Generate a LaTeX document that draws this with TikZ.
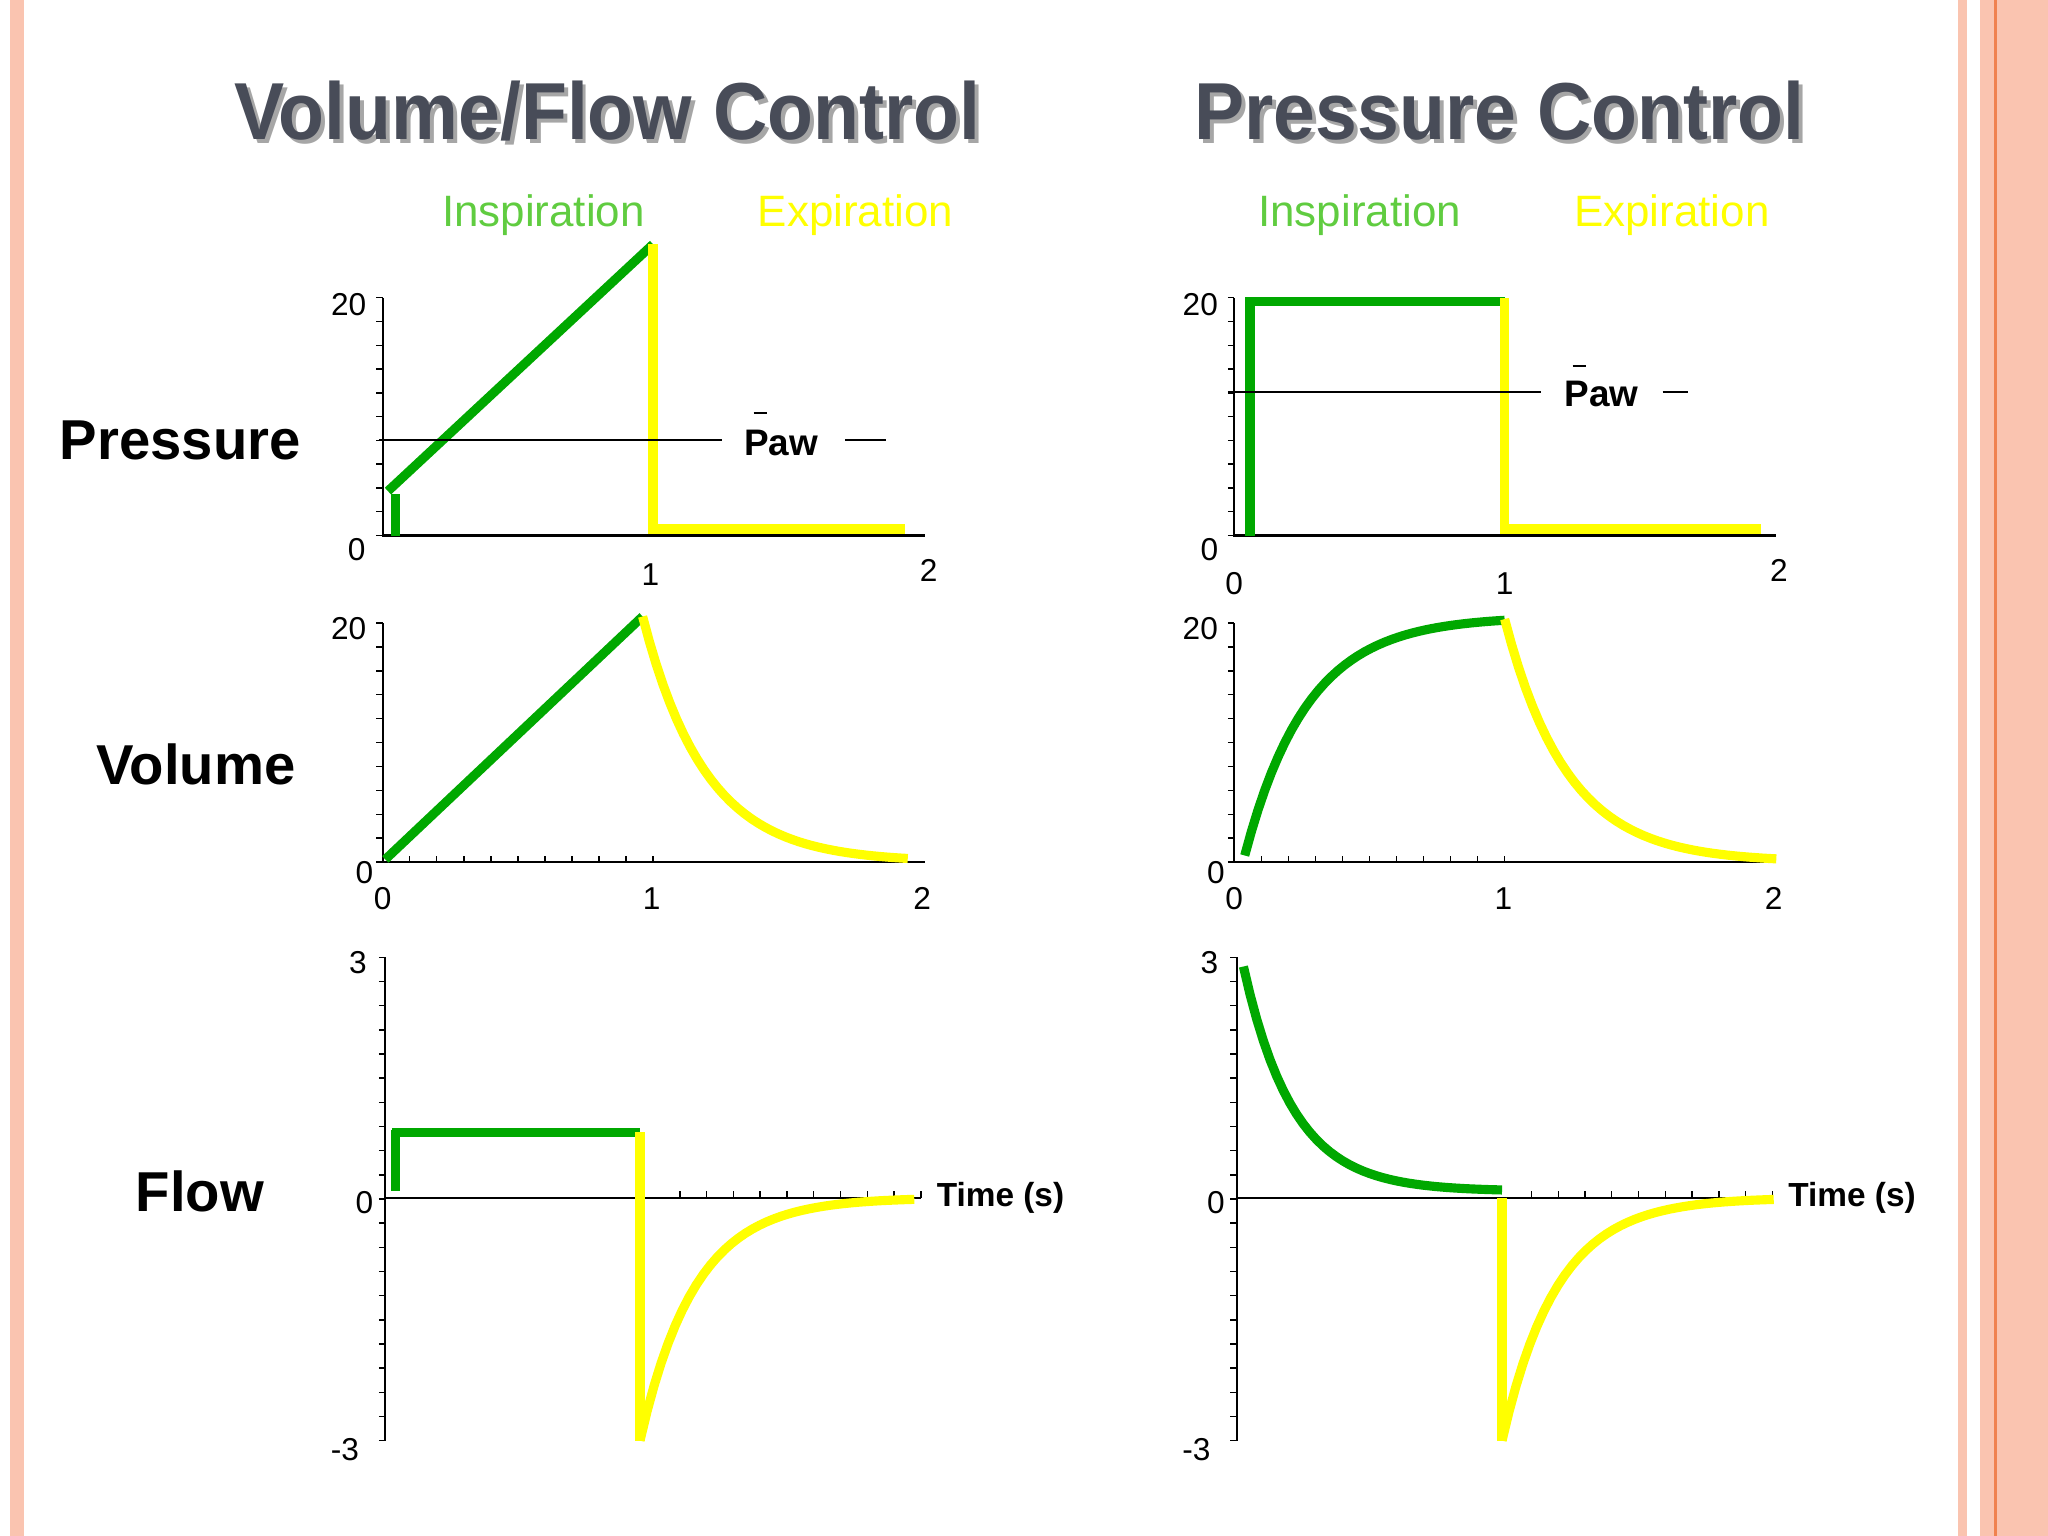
\documentclass[tikz,border=0pt]{standalone}
\usepackage{fontspec}
\setmainfont{Liberation Sans}
\definecolor{insp}{RGB}{0,168,0}
\definecolor{exp}{RGB}{255,255,0}
\definecolor{insptext}{RGB}{96,204,64}
\definecolor{salmon}{RGB}{250,196,176}
\definecolor{rim}{RGB}{240,130,80}
\definecolor{titlegray}{RGB}{72,76,88}
\tikzset{
  inspline/.style={line width=2.6pt,insp},
  expline/.style={line width=2.6pt,exp},
  axisline/.style={line width=0.6pt,black},
  tick/.style={line width=0.4pt,black},
  ticklabel/.style={font=\fontsize{9}{10}\selectfont},
  rowlabel/.style={font=\fontsize{16}{18}\selectfont\bfseries},
  phase/.style={font=\fontsize{12.5}{14}\selectfont},
  pawlabel/.style={font=\fontsize{10.5}{12}\selectfont\bfseries},
  headline/.style={font=\fontsize{23}{28}\selectfont\bfseries,titlegray,xscale=0.93}
}
\begin{document}
\begin{tikzpicture}[x=0.01306cm,y=-0.01306cm]
    \useasboundingbox (0,0) rectangle (1568,1176);
    % page border
    \fill[salmon] (8,0) rectangle (18,1176);
    \fill[salmon] (1499,0) rectangle (1506,1176);
    \fill[salmon] (1516,0) rectangle (1568,1176);
    \draw[rim,line width=0.8pt] (1528,0) -- (1528,1176);

    % titles
    \node[headline,black!35] at (468,88) {Volume/Flow Control};
    \node[headline] (ttlvol) at (465,85) {Volume/Flow Control};
    \node[headline,black!35] at (1151,88) {Pressure Control};
    \node[headline] (ttlpres) at (1148,85) {Pressure Control};

    \node[phase,insptext] (insL) at (416,165) {Inspiration};
    \node[phase,exp] (expL) at (655,165) {Expiration};
    \node[phase,insptext] (insR) at (1041,165) {Inspiration};
    \node[phase,exp] (expR) at (1280,165) {Expiration};

    \node[rowlabel] (rowP) at (138,337) {Pressure};
    \node[rowlabel] (rowV) at (150,585) {Volume};
    \node[rowlabel] (rowF) at (153,912) {Flow};

    \foreach \ox/\side in {0/L,652/R} {
      \begin{scope}[xshift=\ox*0.01306cm]
      % pressure axes
      \draw[axisline] (293,228) -- (293,410) -- (708,410);
      \foreach \k in {0,...,10} \draw[tick] (288,228+\k*18.2) -- (293,228+\k*18.2);
      \node[ticklabel] at (267,233) {20};
      % volume axes
      \draw[axisline] (293,477) -- (293,660) -- (708,660);
      \foreach \k in {0,...,10} \draw[tick] (288,477+\k*18.3) -- (293,477+\k*18.3);
      \foreach \k in {1,...,10} \draw[tick] (293+\k*20.7,660) -- (293+\k*20.7,655);
      \node[ticklabel] at (267,481) {20};
      \node[ticklabel] at (279,668) {0};
      \node[ticklabel] at (293,688) {0};
      \node[ticklabel] at (499,688) {1};
      \node[ticklabel] at (706,688) {2};
      % flow axes
      \draw[axisline] (295,733) -- (295,1103);
      \draw[axisline] (295,917) -- (705,917);
      \foreach \k in {0,...,20} \draw[tick] (290,733+\k*18.5) -- (295,733+\k*18.5);
      \foreach \k in {11,...,20} \draw[tick] (295+\k*20.5,917) -- (295+\k*20.5,912);
      \node[ticklabel] at (274,737) {3};
      \node[ticklabel] at (279,921) {0};
      \node[ticklabel] at (264,1110) {-3};
      \node[ticklabel,font=\fontsize{9.5}{11}\selectfont\bfseries] at (766,917) {Time (s)};
      \end{scope}
    }
    \node[ticklabel] at (273,421) {0};
    \node[ticklabel] at (498,440) {1};
    \node[ticklabel] at (711,437) {2};
    \node[ticklabel] at (926,421) {0};
    \node[ticklabel] at (945,447) {0};
    \node[ticklabel] at (1152,447) {1};
    \node[ticklabel] at (1362,437) {2};

    % volume control curves
    \draw[inspline] (303,410) -- (303,378);
    \draw[inspline] (297,376) -- (500,187);
    \draw[expline] (500,187) -- (500,405) -- (693,405);
    \draw[axisline] (290,337) -- (553,337);
    \node[pawlabel] (pawL) at (598,339) {Paw};
    \draw[axisline] (577,316) -- (587,316);
    \draw[axisline] (647,337) -- (678,337);
    \draw[inspline] (295,658) -- (492,472);
    \draw[expline] plot[domain=492:695,samples=40] (\x,{660-188*exp(-(\x-492)/48)});
    \draw[inspline] (303,912) -- (303,865);
    \draw[inspline] (300,867) -- (490,867);
    \draw[expline] (490,867) -- (490,1103);
    \draw[expline] plot[domain=490:700,samples=40] (\x,{917+186*exp(-(\x-490)/42)});

    % pressure control curves
    \draw[inspline] (957,410) -- (957,231) -- (1152,231);
    \draw[expline] (1152,228) -- (1152,405) -- (1348,405);
    \draw[axisline] (940,300) -- (1180,300);
    \node[pawlabel] (pawR) at (1226,302) {Paw};
    \draw[axisline] (1204,280) -- (1214,280);
    \draw[axisline] (1273,300) -- (1292,300);
    \draw[inspline] plot[domain=953:1152,samples=40] (\x,{655-183*(1-exp(-(\x-953)/48))});
    \draw[expline] plot[domain=1152:1360,samples=40] (\x,{660-186*exp(-(\x-1152)/48)});
    \draw[inspline] plot[domain=952:1150,samples=40] (\x,{912-172*exp(-(\x-952)/38)});
    \draw[expline] (1150,917) -- (1150,1103);
    \draw[expline] plot[domain=1150:1358,samples=40] (\x,{917+186*exp(-(\x-1150)/42)});
\end{tikzpicture}
\end{document}
